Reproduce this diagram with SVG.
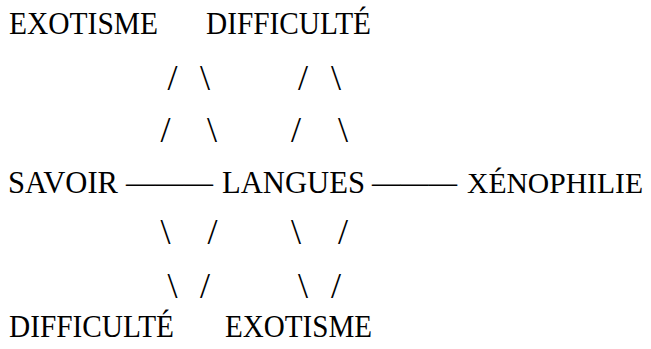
<svg xmlns="http://www.w3.org/2000/svg" width="651" height="349" viewBox="0 0 651 349">
<style>
text{font-family:"Liberation Serif","DejaVu Serif",serif;fill:#000;}
.w{font-size:32px;}
.s{font-size:36px;text-anchor:middle;}
</style>
<rect width="651" height="349" fill="#fff"/>
<g id="connectors">
<text class="w" x="126" y="193" textLength="87" lengthAdjust="spacingAndGlyphs">———</text>
<text class="w" x="372" y="193" textLength="85" lengthAdjust="spacingAndGlyphs">———</text>
<text class="s" x="172.5" y="90">/</text>
<text class="s" x="205" y="90">\</text>
<text class="s" x="303" y="90">/</text>
<text class="s" x="336" y="90">\</text>
<text class="s" x="165.5" y="142">/</text>
<text class="s" x="212" y="142">\</text>
<text class="s" x="296" y="142">/</text>
<text class="s" x="343" y="142">\</text>
<text class="s" x="165.5" y="244">\</text>
<text class="s" x="212.5" y="244">/</text>
<text class="s" x="296" y="244">\</text>
<text class="s" x="343" y="244">/</text>
<text class="s" x="172.5" y="298">\</text>
<text class="s" x="205" y="298">/</text>
<text class="s" x="303" y="298">\</text>
<text class="s" x="336" y="298">/</text>
</g>
<g id="exotisme-top"><text class="w" x="9" y="34" textLength="149" lengthAdjust="spacingAndGlyphs">EXOTISME</text></g>
<g id="difficulte-top"><text class="w" x="206" y="34" textLength="165" lengthAdjust="spacingAndGlyphs">DIFFICULTÉ</text></g>
<g id="savoir"><text class="w" x="8" y="193" textLength="110" lengthAdjust="spacingAndGlyphs">SAVOIR</text></g>
<g id="langues"><text class="w" x="222" y="193" textLength="143" lengthAdjust="spacingAndGlyphs">LANGUES</text></g>
<g id="xenophilie"><text class="w" x="467" y="193" style="font-size:30px" textLength="176" lengthAdjust="spacingAndGlyphs">XÉNOPHILIE</text></g>
<g id="difficulte-bottom"><text class="w" x="9" y="337" textLength="165" lengthAdjust="spacingAndGlyphs">DIFFICULTÉ</text></g>
<g id="exotisme-bottom"><text class="w" x="225" y="337" textLength="147" lengthAdjust="spacingAndGlyphs">EXOTISME</text></g>
</svg>
